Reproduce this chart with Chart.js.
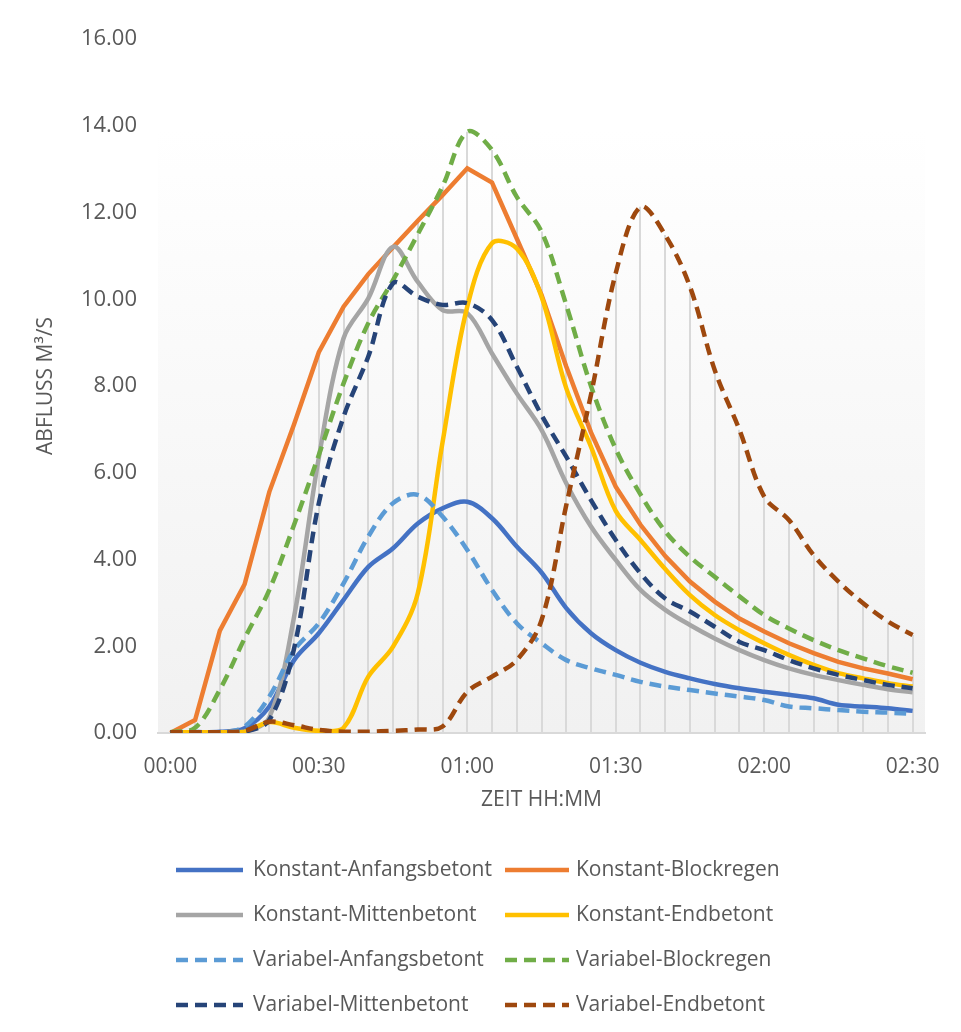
<!DOCTYPE html>
<html lang="de">
<head>
<meta charset="utf-8">
<title>Abfluss</title>
<script src="https://cdn.jsdelivr.net/npm/chart.js@4.4.1/dist/chart.umd.min.js"></script>
<style>
  html, body { margin: 0; padding: 0; background: #ffffff; }
  #wrap { width: 961px; height: 1032px; }
</style>
</head>
<body>
<div id="wrap"><canvas id="abfluss-chart" width="961" height="1032"></canvas></div>
<script>
const timeLabels = [
    '00:00', '00:05', '00:10', '00:15', '00:20', '00:25', '00:30', '00:35', '00:40', '00:45', '00:50',
    '00:55', '01:00', '01:05', '01:10', '01:15', '01:20', '01:25', '01:30', '01:35', '01:40',
    '01:45', '01:50', '01:55', '02:00', '02:05', '02:10', '02:15', '02:20', '02:25', '02:30'
];

const konstantAnfang = [0.02, 0.02, 0.03, 0.11, 0.61, 1.68, 2.30, 3.07, 3.83, 4.26, 4.83, 5.18, 5.33, 4.95, 4.30, 3.70, 2.88, 2.30, 1.91, 1.62, 1.41, 1.26, 1.13, 1.03, 0.95, 0.88, 0.80, 0.65, 0.61, 0.57, 0.51];
const konstantBlock = [0.00, 0.30, 2.36, 3.43, 5.56, 7.12, 8.78, 9.83, 10.58, 11.20, 11.81, 12.40, 13.02, 12.69, 11.40, 10.10, 8.45, 6.93, 5.68, 4.80, 4.08, 3.49, 3.03, 2.64, 2.34, 2.07, 1.84, 1.64, 1.49, 1.37, 1.24];
const konstantMitte = [0.02, 0.02, 0.02, 0.03, 0.36, 2.68, 6.35, 9.10, 10.02, 11.21, 10.40, 9.75, 9.68, 8.75, 7.83, 6.99, 5.76, 4.76, 3.99, 3.30, 2.84, 2.49, 2.18, 1.91, 1.68, 1.49, 1.34, 1.22, 1.11, 1.01, 0.94];
const konstantEnd = [0.02, 0.02, 0.02, 0.03, 0.25, 0.12, 0.05, 0.12, 1.30, 1.99, 3.22, 6.70, 9.83, 11.29, 11.17, 10.06, 7.95, 6.60, 5.12, 4.45, 3.78, 3.18, 2.72, 2.37, 2.07, 1.80, 1.57, 1.38, 1.26, 1.15, 1.07];
const variabelAnfang = [0.02, 0.02, 0.02, 0.15, 0.84, 1.91, 2.53, 3.45, 4.53, 5.30, 5.49, 4.99, 4.22, 3.30, 2.53, 2.07, 1.68, 1.49, 1.34, 1.18, 1.07, 0.99, 0.91, 0.84, 0.76, 0.61, 0.57, 0.53, 0.49, 0.47, 0.44];
const variabelBlock = [0.02, 0.12, 1.00, 2.18, 3.30, 4.80, 6.41, 8.06, 9.45, 10.44, 11.50, 12.60, 13.86, 13.44, 12.36, 11.56, 9.87, 8.00, 6.55, 5.50, 4.65, 4.06, 3.60, 3.15, 2.72, 2.41, 2.14, 1.91, 1.72, 1.54, 1.39];
const variabelMitte = [0.02, 0.02, 0.02, 0.03, 0.30, 1.95, 5.30, 7.29, 8.68, 10.37, 10.06, 9.87, 9.91, 9.52, 8.45, 7.33, 6.37, 5.37, 4.45, 3.68, 3.10, 2.80, 2.45, 2.10, 1.91, 1.68, 1.49, 1.34, 1.22, 1.11, 1.03];
const variabelEnd = [0.02, 0.02, 0.02, 0.05, 0.26, 0.18, 0.07, 0.03, 0.03, 0.05, 0.08, 0.15, 0.95, 1.30, 1.68, 2.60, 5.25, 7.80, 10.60, 12.13, 11.48, 10.29, 8.37, 6.99, 5.45, 4.91, 4.10, 3.49, 2.99, 2.57, 2.26];

const seriesNames = [
    'Konstant-Anfangsbetont', 'Konstant-Blockregen',
    'Konstant-Mittenbetont', 'Konstant-Endbetont',
    'Variabel-Anfangsbetont', 'Variabel-Blockregen',
    'Variabel-Mittenbetont', 'Variabel-Endbetont'
];
const seriesValues = [
    konstantAnfang, konstantBlock, konstantMitte, konstantEnd,
    variabelAnfang, variabelBlock, variabelMitte, variabelEnd
];
const seriesColors = ['#4472C4', '#ED7D31', '#A5A5A5', '#FFC000', '#5B9BD5', '#70AD47', '#264478', '#9E480E'];

const textColor = '#595959';
const dash = [12, 7];

Chart.defaults.font.family = "'Open Sans', sans-serif";
Chart.defaults.color = textColor;

// plot area fill: white at the top fading to light grey at the axis
const plotBackground = {
    id: 'plotBackground',
    beforeDraw(chart) {
        const { ctx, chartArea: a } = chart;
        const g = ctx.createLinearGradient(0, a.top, 0, a.bottom);
        g.addColorStop(0, '#ffffff');
        g.addColorStop(0.13, '#ffffff');
        g.addColorStop(1, '#f1f1f1');
        ctx.save();
        ctx.fillStyle = g;
        ctx.fillRect(a.left, a.top, a.right - a.left, a.bottom - a.top);
        ctx.restore();
    }
};

// vertical drop lines from the axis up to the highest series at each time step
const dropLines = {
    id: 'dropLines',
    beforeDatasetsDraw(chart) {
        const { ctx, scales: { x, y } } = chart;
        const base = y.getPixelForValue(0);
        ctx.save();
        ctx.strokeStyle = '#d9d9d9';
        ctx.lineWidth = 2;
        timeLabels.forEach((label, i) => {
            const top = Math.max(...chart.data.datasets.map(ds => ds.data[i]));
            const px = Math.round(x.getPixelForValue(i));
            ctx.beginPath();
            ctx.moveTo(px, base);
            ctx.lineTo(px, y.getPixelForValue(top));
            ctx.stroke();
        });
        ctx.restore();
    }
};

// two-column legend below the axis
const gridLegend = {
    id: 'gridLegend',
    afterDraw(chart) {
        const { ctx } = chart;
        const lineX = [[176, 243], [505, 569]];
        const textX = [253, 576];
        const rowY = [870, 915, 960, 1005];
        ctx.save();
        ctx.font = "21px 'Open Sans', sans-serif";
        ctx.textBaseline = 'middle';
        ctx.fillStyle = textColor;
        chart.data.datasets.forEach((ds, i) => {
            const col = i % 2;
            const y0 = rowY[Math.floor(i / 2)];
            ctx.beginPath();
            ctx.strokeStyle = ds.borderColor;
            ctx.lineWidth = ds.borderWidth;
            ctx.setLineDash(ds.borderDash || []);
            ctx.moveTo(lineX[col][0], y0);
            ctx.lineTo(lineX[col][1], y0);
            ctx.stroke();
            ctx.setLineDash([]);
            ctx.fillText(ds.label, textX[col], y0);
        });
        ctx.restore();
    }
};

const datasets = seriesNames.map((name, i) => ({
    label: name,
    data: seriesValues[i],
    borderColor: seriesColors[i],
    backgroundColor: seriesColors[i],
    borderWidth: 4.5,
    borderDash: i >= 4 ? dash : [],
    tension: i === 1 ? 0 : 0.35,
    pointRadius: 0,
    pointHoverRadius: 0,
    fill: false,
    order: seriesNames.length - i
}));

new Chart(document.getElementById('abfluss-chart'), {
    type: 'line',
    data: { labels: timeLabels, datasets },
    options: {
        responsive: false,
        animation: false,
        events: [],
        layout: { padding: { top: 39, right: 36, bottom: 209, left: 0 } },
        plugins: {
            legend: { display: false },
            tooltip: { enabled: false }
        },
        scales: {
            x: {
                type: 'category',
                offset: true,
                grid: { display: false, drawTicks: false },
                border: { display: true, color: '#d9d9d9', width: 2 },
                ticks: {
                    autoSkip: false,
                    maxRotation: 0,
                    padding: 21,
                    font: { size: 21 },
                    callback: (v, i) => (i % 6 === 0 ? timeLabels[i] : '')
                },
                title: {
                    display: true,
                    text: 'ZEIT HH:MM',
                    font: { size: 21 },
                    padding: { top: 0, bottom: 10 }
                },
                afterFit: scale => { scale.height = 90; }
            },
            y: {
                min: 0,
                max: 16,
                grid: { display: false, drawTicks: false },
                border: { display: false },
                ticks: {
                    stepSize: 2,
                    padding: 21,
                    font: { size: 22 },
                    callback: v => v.toFixed(2)
                },
                title: {
                    display: true,
                    text: 'ABFLUSS M³/S',
                    font: { size: 21 },
                    padding: { top: 33, bottom: 0 }
                },
                afterFit: scale => { scale.width = 158; }
            }
        }
    },
    plugins: [plotBackground, dropLines, gridLegend]
});
</script>
</body>
</html>
